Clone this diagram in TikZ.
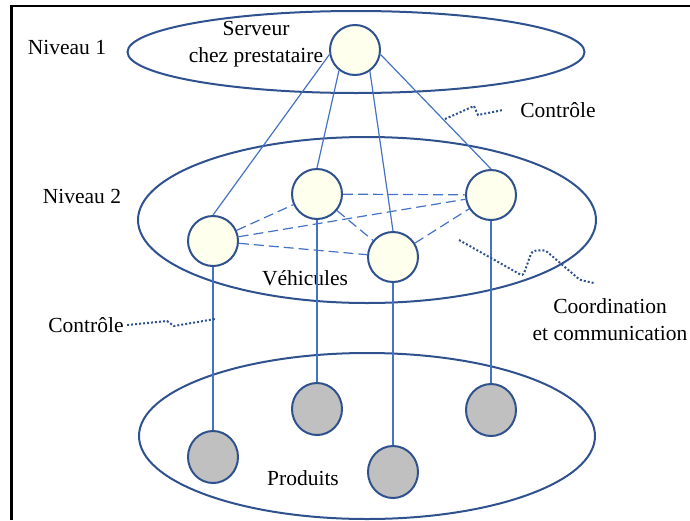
\documentclass[tikz,border=0pt]{standalone}
\usepackage{fontspec}
\setmainfont{Liberation Serif}
\usetikzlibrary{shapes.geometric,positioning}
\definecolor{navy}{RGB}{47,82,143}
\definecolor{lblue}{RGB}{68,114,196}
\definecolor{cream}{RGB}{255,255,238}
\definecolor{pgrey}{RGB}{192,192,192}

\begin{document}
\begin{tikzpicture}[x=1pt,y=-1pt,font=\fontsize{21.5}{27}\selectfont,
    level/.style={ellipse,draw=navy,line width=2pt,inner sep=0pt},
    place/.style={circle,draw=navy,line width=2pt,fill=cream,minimum size=50pt,inner sep=0pt},
    prod/.style={ellipse,draw=navy,line width=2pt,fill=pgrey,minimum width=50pt,minimum height=52pt,inner sep=0pt},
    link/.style={draw=lblue,line width=1.2pt},
    wavy/.style={draw=navy,line width=2pt,dotted}]
    \useasboundingbox (0,0) rectangle (690,520);
    \draw[line width=2.5pt] (11.5,520) -- (11.5,6) -- (690,6);

    % niveaux
    \node[level,minimum width=457pt,minimum height=82pt] (n1) at (356,52) {};
    \node[level,minimum width=458pt,minimum height=166pt] (n2) at (367,220) {};
    \node[level,minimum width=456pt,minimum height=166pt] (n3) at (367,436) {};

    \node (0) at (355,50) [place] {};
    \node (1) at (213,241) [place] {};
    \node (2) at (317,194) [place] {};
    \node (3) at (393,257) [place] {};
    \node (4) at (491,195) [place] {};
    \node (5) at (213,457) [prod] {};
    \node (6) at (317,409) [prod] {};
    \node (7) at (393,472) [prod] {};
    \node (8) at (491,410) [prod] {};

    \node (l1) at (67,47) {Niveau 1};
    \node (l2) at (82,196) {Niveau 2};
    \node[align=center] (srv) at (256,44) {Serveur\\chez prestataire};
    \node (veh) at (305,278) {Véhicules};
    \node (pro) at (303,478) {Produits};
    \node (ctrlA) at (558,110) {Contrôle};
    \node (ctrlB) at (86,325) {Contrôle};
    \node[align=center] (coord) at (610,320) {Coordination\\et communication};

    \draw[link] (0.190) -- (1.north);
    \draw[link] (0.232) -- (2.north);
    \draw[link] (0.305) -- (3.north);
    \draw[link] (0.350) -- (4.north);

    \foreach \a/\b in {1/2,1/4,1/3,2/4,2/3,3/4}
      \draw[link,dash pattern=on 10pt off 5pt] (\a) -- (\b);

    \foreach \a/\b in {1/5,2/6,3/7,4/8}
      \draw[link] (\a.south) -- (\b.north);

    \coordinate (cA) at (445,119);
    \coordinate (cB) at (215,319);
    \coordinate (cC) at (459,240);
    \draw[wavy] (cA) -- (474,106) -- (478,115) -- ([xshift=-14pt]ctrlA.west);
    \draw[wavy] (ctrlB.east) -- (167,321) -- (174,326) -- (cB);
    \draw[wavy,rounded corners=3pt] (cC) -- (523,276) -- (532,251) -- (545,250) -- (580,280) -- (594,283);
\end{tikzpicture}
\end{document}
